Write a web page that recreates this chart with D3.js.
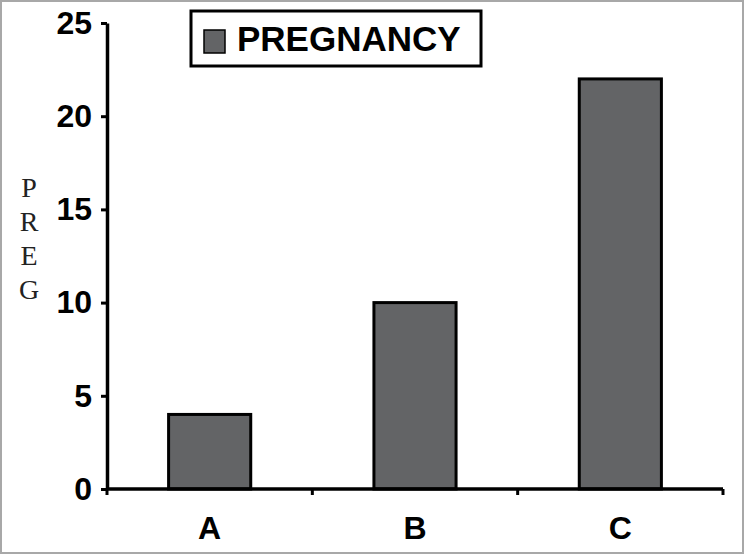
<!DOCTYPE html>
<html>
<head>
<meta charset="utf-8">
<script src="https://cdn.jsdelivr.net/npm/d3@7"></script>
<style>
  body { margin: 0; background: #fff; }
  svg { display: block; }
  .tick-label { font-family: "Liberation Sans", Arial, sans-serif; font-weight: bold; }
</style>
</head>
<body>
<svg class="chart"></svg>
<script>
// Data
var categories = ['A', 'B', 'C'];
var pregValues = [4, 10, 22];
var yTicks = [0, 5, 10, 15, 20, 25];
var seriesName = 'PREGNANCY';
var yTitle = ['P', 'R', 'E', 'G'];

// Setup
var W = 744, H = 555;
var plot = {left: 107, right: 723, top: 23, bottom: 489};
var barColor = '#636466';

var svg = d3.select('.chart').attr('width', W).attr('height', H);

// frame
svg.append('rect')
  .attr('x', 1).attr('y', 1).attr('width', W - 2).attr('height', H - 3)
  .attr('fill', '#fff').attr('stroke', '#a8a8a8').attr('stroke-width', 2);

var x = d3.scaleBand().domain(categories).range([plot.left, plot.right]).padding(0);
var y = d3.scaleLinear().domain([0, 25]).range([plot.bottom, plot.top]);
var barW = x.bandwidth() * 0.4;

// bars
svg.selectAll('.bar')
  .data(pregValues)
  .enter()
  .append('rect')
  .attr('class', 'bar')
  .attr('x', function (d, i) { return x(categories[i]) + x.bandwidth() / 2 - barW / 2; })
  .attr('y', function (d) { return y(d); })
  .attr('width', barW)
  .attr('height', function (d) { return y(0) - y(d); })
  .attr('fill', barColor)
  .attr('stroke', '#000')
  .attr('stroke-width', 3);

// y axis
var yAxis = svg.append('g')
  .attr('transform', 'translate(' + plot.left + ',0)')
  .call(d3.axisLeft(y).tickValues(yTicks).tickSize(6).tickSizeOuter(0).tickPadding(9));
yAxis.select('.domain').attr('stroke', '#000').attr('stroke-width', 3.5);
yAxis.selectAll('.tick line').attr('stroke', '#000').attr('stroke-width', 3);
yAxis.selectAll('.tick text')
  .attr('class', 'tick-label')
  .attr('font-size', 32)
  .attr('fill', '#000');

// x axis: line plus boundary ticks
svg.append('line')
  .attr('x1', plot.left).attr('x2', plot.right)
  .attr('y1', plot.bottom).attr('y2', plot.bottom)
  .attr('stroke', '#000').attr('stroke-width', 3.5);

var bounds = categories.map(function (c) { return x(c); }).concat([x(categories[categories.length - 1]) + x.bandwidth()]);
svg.selectAll('.xtick')
  .data(bounds)
  .enter()
  .append('line')
  .attr('x1', function (d) { return d; }).attr('x2', function (d) { return d; })
  .attr('y1', plot.bottom).attr('y2', plot.bottom + 6)
  .attr('stroke', '#000').attr('stroke-width', 3);

svg.selectAll('.xlabel')
  .data(categories)
  .enter()
  .append('text')
  .attr('class', 'tick-label')
  .attr('x', function (d) { return x(d) + x.bandwidth() / 2; })
  .attr('y', 539)
  .attr('text-anchor', 'middle')
  .attr('font-size', 32)
  .text(function (d) { return d; });

// y title, letters stacked
svg.selectAll('.ytitle')
  .data(yTitle)
  .enter()
  .append('text')
  .attr('x', 29)
  .attr('y', function (d, i) { return 197 + i * 34; })
  .attr('text-anchor', 'middle')
  .attr('font-family', '"Liberation Serif", "Times New Roman", serif')
  .attr('font-size', 28)
  .attr('fill', '#222')
  .text(function (d) { return d; });

// legend
var legend = svg.append('g');
legend.append('rect')
  .attr('x', 191).attr('y', 11).attr('width', 290).attr('height', 55)
  .attr('fill', '#fff').attr('stroke', '#000').attr('stroke-width', 3);
legend.append('rect')
  .attr('x', 204).attr('y', 30).attr('width', 21).attr('height', 23)
  .attr('fill', barColor).attr('stroke', '#000').attr('stroke-width', 1.5);
legend.append('text')
  .attr('class', 'tick-label')
  .attr('x', 237).attr('y', 51)
  .attr('font-size', 35)
  .text(seriesName);
</script>
</body>
</html>
